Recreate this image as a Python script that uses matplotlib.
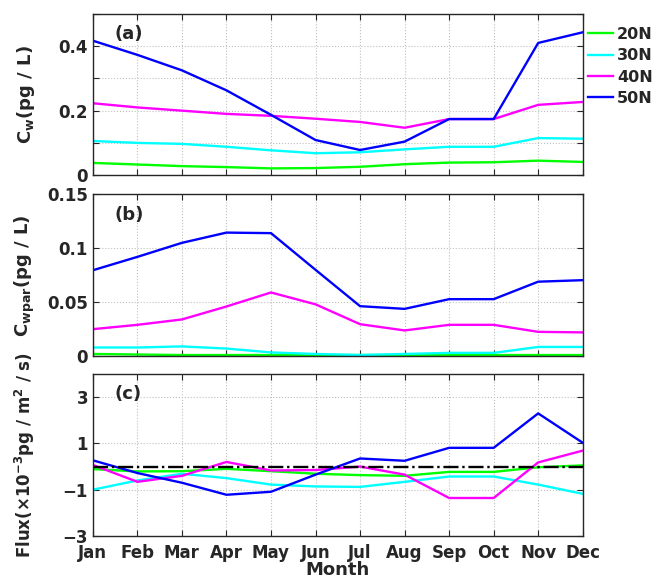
import matplotlib
matplotlib.use("Agg")
import matplotlib.pyplot as plt
import numpy as np

months = ["Jan", "Feb", "Mar", "Apr", "May", "Jun",
          "Jul", "Aug", "Sep", "Oct", "Nov", "Dec"]
lats = ["20N", "30N", "40N", "50N"]
colors = ["#00ff00", "#00ffff", "#ff00ff", "#0000ff"]

# (a) C_w (pg/L)
cw_20 = [0.038, 0.033, 0.028, 0.025, 0.021, 0.022, 0.026, 0.034, 0.039, 0.040, 0.045, 0.041]
cw_30 = [0.106, 0.100, 0.097, 0.088, 0.077, 0.068, 0.071, 0.080, 0.088, 0.088, 0.115, 0.113]
cw_40 = [0.223, 0.210, 0.200, 0.190, 0.184, 0.175, 0.165, 0.147, 0.174, 0.174, 0.218, 0.227]
cw_50 = [0.417, 0.373, 0.325, 0.263, 0.187, 0.109, 0.078, 0.104, 0.174, 0.174, 0.410, 0.443]

# (b) C_wpar (pg/L)
cwp_20 = [0.002, 0.0015, 0.001, 0.001, 0.001, 0.001, 0.001, 0.001, 0.001, 0.001, 0.001, 0.001]
cwp_30 = [0.008, 0.008, 0.009, 0.007, 0.0034, 0.002, 0.001, 0.002, 0.003, 0.003, 0.0085, 0.0085]
cwp_40 = [0.025, 0.029, 0.034, 0.046, 0.059, 0.048, 0.0296, 0.0238, 0.029, 0.029, 0.0225, 0.022]
cwp_50 = [0.0796, 0.092, 0.105, 0.1145, 0.114, 0.080, 0.0463, 0.0438, 0.0528, 0.0528, 0.069, 0.0704]

# (c) Flux (x1e-3 pg/m2/s)
fx_20 = [-0.11, -0.21, -0.20, -0.10, -0.20, -0.31, -0.37, -0.40, -0.23, -0.23, -0.03, 0.05]
fx_30 = [-1.00, -0.60, -0.31, -0.50, -0.78, -0.86, -0.88, -0.66, -0.43, -0.43, -0.78, -1.18]
fx_40 = [0.07, -0.66, -0.40, 0.20, -0.17, -0.15, 0.00, -0.35, -1.36, -1.36, 0.18, 0.69]
fx_50 = [0.27, -0.28, -0.70, -1.22, -1.09, -0.35, 0.35, 0.25, 0.81, 0.81, 2.30, 1.03]

plt.rcParams['font.family'] = ['DejaVu Sans']
plt.rcParams['font.weight'] = 'bold'
plt.rcParams['font.size'] = 12
plt.rcParams['text.color'] = '#262626'
plt.rcParams['axes.labelcolor'] = '#262626'
plt.rcParams['xtick.color'] = '#262626'
plt.rcParams['ytick.color'] = '#262626'
plt.rcParams['axes.labelweight'] = 'bold'
plt.rcParams['mathtext.default'] = 'bf'

fig = plt.figure(figsize=(6.54, 5.80), dpi=100)
x = np.arange(len(months))

boxes = [[0.142, 0.698, 0.749, 0.278],
         [0.142, 0.386, 0.749, 0.279],
         [0.142, 0.076, 0.749, 0.279]]
series = [[cw_20, cw_30, cw_40, cw_50],
          [cwp_20, cwp_30, cwp_40, cwp_50],
          [fx_20, fx_30, fx_40, fx_50]]
ylabels = [r"C$_\mathbf{w}$(pg / L)",
           r"C$_\mathbf{wpar}$(pg / L)",
           r"Flux($\times$10$^{\mathbf{-3}}$pg / m$^\mathbf{2}$ / s)"]
ysizes = [13, 13, 12]
tags = ["(a)", "(b)", "(c)"]

axes = []
for i in range(3):
    ax = fig.add_axes(boxes[i])
    for vals, c, lab in zip(series[i], colors, lats):
        ax.plot(x, vals, color=c, lw=1.7, label=lab)
    ax.set_xlim(0, 11)
    ax.set_xticks(x)
    ax.grid(True, ls=':', color='#c0c0c0', lw=0.8)
    ax.tick_params(direction='in', top=True, right=True, length=4, labelsize=12)
    ax.tick_params(axis='x', pad=6)
    ax.set_ylabel(ylabels[i], fontsize=ysizes[i], fontweight='bold')
    ax.yaxis.set_label_coords(-0.115, 0.5)
    ax.text(0.045, 0.93, tags[i], transform=ax.transAxes, fontsize=13,
            fontweight='bold', va='top')
    for s in ax.spines.values():
        s.set_color('#262626')
        s.set_linewidth(1.0)
    axes.append(ax)

ax1, ax2, ax3 = axes
ax1.set_ylim(0, 0.5)
ax1.set_yticks([0, 0.1, 0.2, 0.3, 0.4, 0.5])
ax1.set_yticklabels(["0", "", "0.2", "", "0.4", ""])
ax1.set_xticklabels([])

ax2.set_ylim(0, 0.15)
ax2.set_yticks([0, 0.05, 0.1, 0.15])
ax2.set_yticklabels(["0", "0.05", "0.1", "0.15"])
ax2.set_xticklabels([])

ax3.plot(x, np.zeros(len(x)), color='black', ls='-.', lw=1.7)
ax3.set_ylim(-3, 4)
ax3.set_yticks([-3, -1, 1, 3])
ax3.set_yticklabels(["\u22123", "\u22121", "1", "3"])
ax3.set_xticklabels(months)
ax3.set_xlabel("Month", fontsize=13, fontweight='bold', labelpad=-1)

ax1.legend(loc='upper left', bbox_to_anchor=(1.0, 0.95), frameon=False,
           fontsize=11.5, handlelength=1.6, handletextpad=0.25,
           labelspacing=0.4, borderaxespad=0.1, borderpad=0.2)

fig.savefig("out.png", dpi=100)
